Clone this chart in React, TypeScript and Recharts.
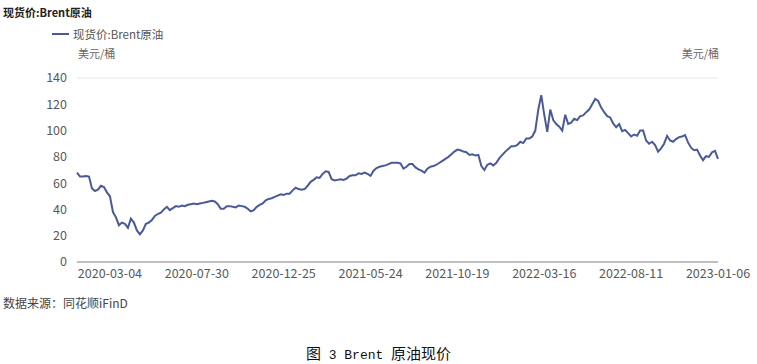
import { LineChart, Line, XAxis, YAxis, CartesianGrid } from 'recharts';

// 现货价:Brent原油, 美元/桶, 2020-01 .. 2023-01-06 (sampled roughly every 3-4 trading days)
const PRICES = [
  68, 65, 65, 65.5, 65, 56, 54, 55, 58, 57, 53, 50, 38, 34, 28, 30, 29, 26, 33, 30,
  24, 21, 24, 29, 30, 32, 35, 36.5, 37.5, 40, 42, 39.5, 41, 42.5, 42, 43, 42.5, 43.5, 44, 44.5,
  44, 44.5, 45, 45.5, 46, 46.5, 46, 44, 40.5, 40.5, 42.5, 42.5, 42, 41.5, 43, 42.5, 42, 40.5, 38.5, 39.5,
  42, 43.5, 44.5, 47, 48, 48.5, 49.5, 50.5, 51.5, 51, 52, 52, 54.5, 56.5, 55.5, 55, 55.5, 58, 61, 62.5,
  64.5, 64, 67, 69, 68.5, 63, 62, 62.5, 63, 62.5, 63.5, 65.5, 66, 66, 67.5, 67, 68, 67, 65.5, 69.5,
  71.5, 72.5, 73, 73.5, 74.5, 75.5, 75.5, 75.5, 75, 71, 72.5, 74.5, 74.5, 72, 70.5, 69.5, 68, 71, 72.5, 73,
  74, 75.5, 77, 78.5, 80, 82, 84, 85.5, 85, 84, 83.5, 81.5, 82, 81, 81.5, 73, 70, 74, 75, 73.5,
  75.5, 79, 81.5, 84, 86, 88, 88, 89, 91.5, 90.5, 94, 94, 95.5, 100, 116, 127, 112, 99, 116, 108,
  105, 103, 100, 112, 105, 106, 109, 108, 111, 111.5, 114, 116, 120, 124, 122.5, 117.5, 114, 111, 110, 105.5,
  102.5, 105, 99.5, 100.5, 98, 95.5, 97, 96, 100, 100, 92.5, 90, 91.5, 89, 84, 86.5, 90, 96, 92.5, 91.5,
  93.5, 95, 95.5, 96.5, 91, 87, 85, 85.5, 81, 77.5, 80.5, 80, 83.5, 84.5, 78.5,
];

const TICK_POS = [11, 40, 69, 98, 127, 156, 185, 214];
const TICK_LABELS = [
  '2020-03-04',
  '2020-07-30',
  '2020-12-25',
  '2021-05-24',
  '2021-10-19',
  '2022-03-16',
  '2022-08-11',
  '2023-01-06',
];
const Y_TICKS = [0, 20, 40, 60, 80, 100, 120, 140];

const SERIES_NAME = '现货价:Brent原油';
const UNIT = '美元/桶';
const LINE_COLOR = '#4A5A98';
const FONT = '"Noto Sans CJK SC", "Open Sans", sans-serif';

const chartData = PRICES.map((price, idx) => ({ idx, price }));

const tickStyle = { fill: '#595959', fontSize: 12.5, fontFamily: FONT };

// caption: latin runs set half-width like a SimSun-style face
const latin = { fontFamily: '"Liberation Mono", monospace', fontSize: 13 };

export default function App() {
  return (
    <div
      style={{
        position: 'absolute',
        left: 0,
        top: 0,
        width: 757,
        height: 364,
        background: '#fff',
        fontFamily: FONT,
      }}
    >
      <div style={{ position: 'absolute', left: 3, top: 4, fontSize: 11, fontWeight: 700, color: '#222' }}>
        {SERIES_NAME}
      </div>

      {/* legend */}
      <div style={{ position: 'absolute', left: 52, top: 26, display: 'flex', alignItems: 'center' }}>
        <span style={{ display: 'inline-block', width: 17, height: 2, background: LINE_COLOR }} />
        <span style={{ marginLeft: 4, fontSize: 11.5, color: '#555' }}>{SERIES_NAME}</span>
      </div>

      <div style={{ position: 'absolute', left: 78, top: 45, fontSize: 11, color: '#666' }}>{UNIT}</div>
      <div style={{ position: 'absolute', right: 38, top: 45, fontSize: 11, color: '#666' }}>{UNIT}</div>

      <div style={{ position: 'absolute', left: 0, top: 0 }}>
        <LineChart width={757} height={300} data={chartData} margin={{ top: 78, right: 0, bottom: 8, left: 0 }}>
          <CartesianGrid vertical={false} stroke="#E8E8EE" />
          <XAxis
            dataKey="idx"
            type="number"
            domain={[0, PRICES.length - 1]}
            ticks={TICK_POS}
            interval={0}
            tickFormatter={(v: number) => TICK_LABELS[TICK_POS.indexOf(v)] ?? ''}
            tickLine={false}
            tickSize={0}
            tickMargin={7}
            height={30}
            stroke="#8C8C8C"
            tick={tickStyle}
          />
          <YAxis
            yAxisId="left"
            domain={[0, 140]}
            ticks={Y_TICKS}
            axisLine={false}
            tickLine={false}
            tickSize={0}
            tickMargin={10}
            width={77}
            tick={tickStyle}
          />
          <YAxis
            yAxisId="right"
            orientation="right"
            domain={[0, 140]}
            ticks={Y_TICKS}
            axisLine={false}
            tickLine={false}
            tickSize={0}
            tickMargin={10}
            width={39}
            tick={tickStyle}
          />
          <Line
            yAxisId="left"
            type="linear"
            dataKey="price"
            stroke={LINE_COLOR}
            strokeWidth={2}
            dot={false}
            isAnimationActive={false}
          />
        </LineChart>
      </div>

      <div style={{ position: 'absolute', left: 3, top: 294, fontSize: 12, color: '#444' }}>
        数据来源：同花顺iFinD
      </div>

      <div
        style={{
          position: 'absolute',
          left: 0,
          width: 757,
          top: 342,
          textAlign: 'center',
          fontSize: 15,
          color: '#111',
          whiteSpace: 'pre',
          fontFamily: '"Noto Sans CJK SC", serif',
        }}
      >
        图<span style={latin}> 3 Brent </span>原油现价
      </div>
    </div>
  );
}
